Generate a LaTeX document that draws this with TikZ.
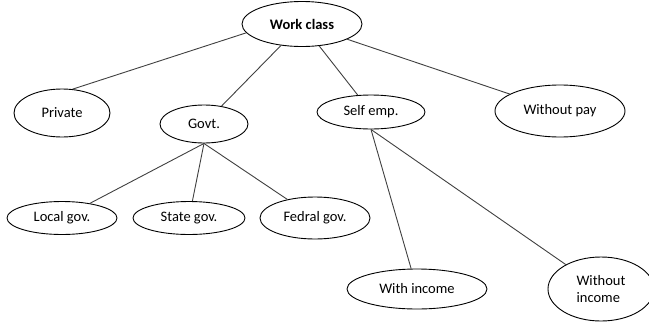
\documentclass[tikz,border=0pt]{standalone}
\usepackage{fontspec}
\setmainfont{Carlito}
\usetikzlibrary{shapes.geometric}
\begin{document}
\begin{tikzpicture}[x=1pt,y=-1pt,
  ell/.style={draw=black, ellipse, inner sep=0pt, line width=0.9pt, font=\fontsize{14.5}{17}\selectfont},
  conn/.style={draw=black!75, line width=0.9pt}]
\useasboundingbox (0,0) rectangle (649,322);
\node[ell, minimum width=120, minimum height=45, font=\fontsize{14.5}{17}\selectfont\bfseries] (work) at (302,24) {Work class};
\node[ell, minimum width=96, minimum height=48] (private) at (62,113) {Private};
\node[ell, minimum width=88, minimum height=38] (govt) at (204,124) {Govt.};
\node[ell, minimum width=108, minimum height=34] (self) at (371,112) {Self emp.};
\node[ell, minimum width=130, minimum height=52] (wpay) at (560,111) {Without pay};
\node[ell, minimum width=110, minimum height=33] (local) at (62,218) {Local gov.};
\node[ell, minimum width=112, minimum height=33] (state) at (189,218) {State gov.};
\node[ell, minimum width=110, minimum height=42] (fed) at (315,218) {Fedral gov.};
\node[ell, minimum width=140, minimum height=40] (winc) at (417,289) {With income};
\node[ell, minimum width=106, minimum height=64, align=left] (woinc) at (601,289) {Without\\income};
\draw[conn] (work.189) -- (private.66);
\draw[conn] (work) -- (govt);
\draw[conn] (work) -- (self);
\draw[conn] (work) -- (wpay);
\draw[conn] (govt.south) -- (local);
\draw[conn] (govt.south) -- (state);
\draw[conn] (govt.south) -- (fed);
\draw[conn] (self.south) -- (winc);
\draw[conn] (self.south) -- (woinc);
\end{tikzpicture}
\end{document}
